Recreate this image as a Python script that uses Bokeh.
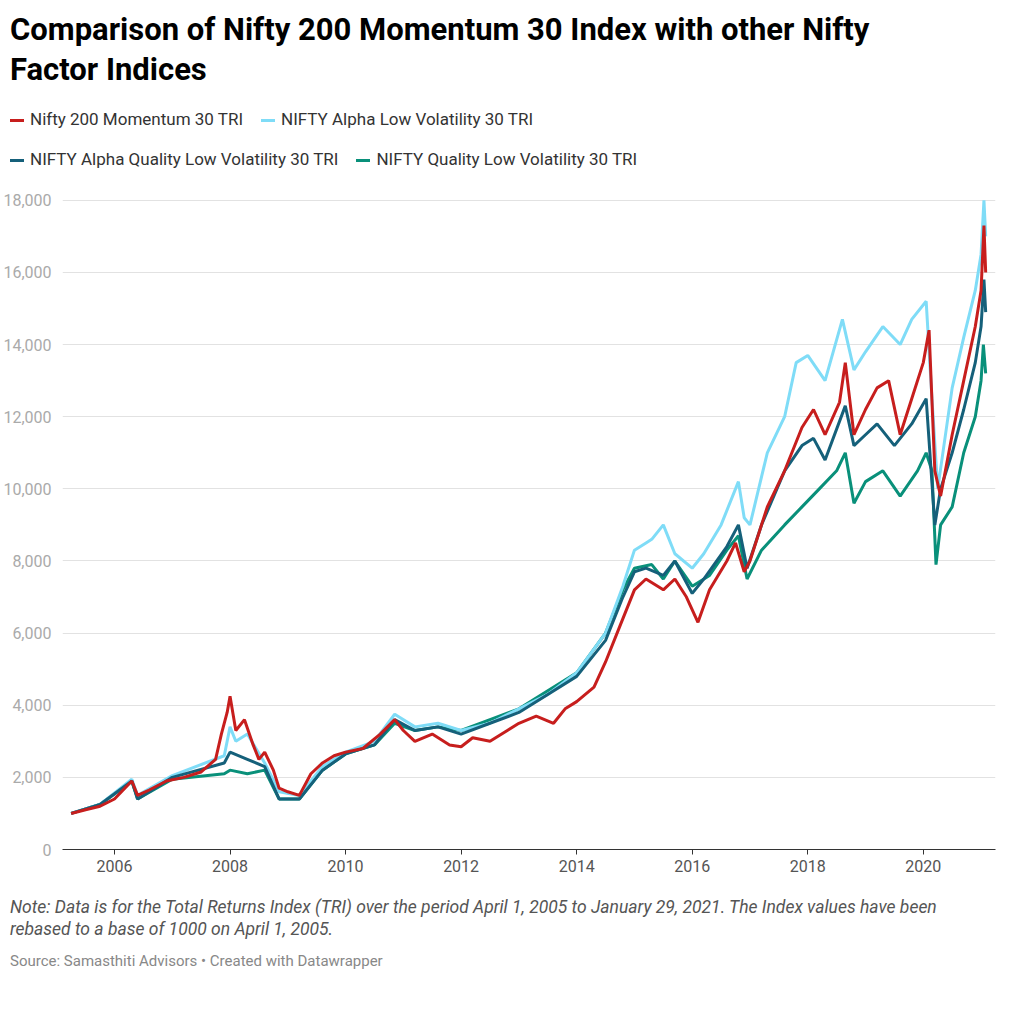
from bokeh.plotting import figure
from bokeh.models import Div, NumeralTickFormatter, FixedTicker
from bokeh.layouts import column
from bokeh.embed import file_html
from bokeh.resources import INLINE

mom_x = [2005.25,2005.5,2005.75,2006.0,2006.3,2006.4,2006.6,2006.9,2007.2,2007.5,2007.75,2007.85,2007.95,2008.0,2008.1,2008.25,2008.4,2008.5,2008.6,2008.75,2008.85,2009.0,2009.2,2009.4,2009.6,2009.8,2010.0,2010.3,2010.6,2010.85,2011.0,2011.2,2011.5,2011.8,2012.0,2012.2,2012.5,2012.8,2013.0,2013.3,2013.6,2013.8,2014.0,2014.3,2014.5,2014.75,2015.0,2015.2,2015.5,2015.7,2015.9,2016.1,2016.3,2016.6,2016.75,2016.9,2017.0,2017.3,2017.6,2017.9,2018.1,2018.3,2018.55,2018.65,2018.8,2019.0,2019.2,2019.4,2019.6,2019.8,2020.0,2020.1,2020.2,2020.3,2020.5,2020.7,2020.9,2021.0,2021.05,2021.08]
mom_y = [1000,1100,1200,1400,1900,1500,1650,1900,2000,2150,2500,3200,3800,4250,3300,3600,2900,2500,2700,2200,1700,1600,1500,2100,2400,2600,2700,2800,3200,3600,3300,3000,3200,2900,2850,3100,3000,3300,3500,3700,3500,3900,4100,4500,5200,6200,7200,7500,7200,7500,7000,6300,7200,8000,8500,7700,8000,9500,10500,11700,12200,11500,12400,13500,11500,12200,12800,13000,11500,12500,13500,14400,10500,9800,11500,13000,14500,15500,17300,16000]

alv_x = [2005.25,2005.75,2006.3,2006.4,2007.0,2007.9,2008.0,2008.1,2008.3,2008.6,2008.85,2009.2,2009.6,2010.0,2010.5,2010.85,2011.2,2011.6,2012.0,2012.5,2013.0,2013.5,2014.0,2014.5,2014.8,2015.0,2015.2,2015.3,2015.5,2015.7,2016.0,2016.2,2016.5,2016.8,2016.9,2017.0,2017.3,2017.6,2017.8,2018.0,2018.3,2018.6,2018.8,2019.0,2019.3,2019.6,2019.8,2020.05,2020.15,2020.25,2020.5,2020.7,2020.9,2021.0,2021.05,2021.08]
alv_y = [1000,1250,1950,1500,2050,2600,3400,3000,3200,2400,1600,1500,2300,2700,3000,3750,3400,3500,3300,3500,3900,4300,4900,6000,7300,8300,8500,8600,9000,8200,7800,8200,9000,10200,9200,9000,11000,12000,13500,13700,13000,14700,13300,13800,14500,14000,14700,15200,12500,10000,12800,14200,15500,16500,18000,17000]

aqlv_x = [2005.25,2005.75,2006.3,2006.4,2007.0,2007.9,2008.0,2008.3,2008.6,2008.85,2009.2,2009.6,2010.0,2010.5,2010.85,2011.2,2011.6,2012.0,2012.5,2013.0,2013.5,2014.0,2014.5,2014.8,2015.0,2015.2,2015.5,2015.7,2016.0,2016.2,2016.6,2016.8,2016.95,2017.2,2017.6,2017.9,2018.1,2018.3,2018.65,2018.8,2019.0,2019.2,2019.5,2019.8,2020.05,2020.2,2020.3,2020.5,2020.7,2020.9,2021.0,2021.05,2021.08]
aqlv_y = [1000,1250,1900,1400,2000,2400,2700,2500,2300,1400,1400,2200,2650,2900,3600,3300,3400,3200,3500,3800,4300,4800,5800,7000,7700,7800,7600,8000,7100,7500,8400,9000,7800,9000,10500,11200,11400,10800,12300,11200,11500,11800,11200,11800,12500,9000,10000,11000,12200,13500,14500,15800,14900]

qlv_x = [2005.25,2005.75,2006.3,2006.4,2007.0,2007.9,2008.0,2008.3,2008.6,2008.85,2009.2,2009.6,2010.0,2010.5,2010.85,2011.2,2011.6,2012.0,2012.5,2013.0,2013.5,2014.0,2014.5,2014.8,2015.0,2015.3,2015.5,2015.7,2016.0,2016.3,2016.6,2016.8,2016.95,2017.2,2017.6,2017.9,2018.2,2018.5,2018.65,2018.8,2019.0,2019.3,2019.6,2019.9,2020.05,2020.15,2020.22,2020.3,2020.5,2020.7,2020.9,2021.0,2021.04,2021.08]
qlv_y = [1000,1250,1900,1400,1950,2100,2200,2100,2200,1400,1400,2200,2650,2900,3500,3300,3400,3300,3600,3900,4400,4900,6000,7200,7800,7900,7500,8000,7300,7600,8300,8700,7500,8300,9000,9500,10000,10500,11000,9600,10200,10500,9800,10500,11000,10500,7900,9000,9500,11000,12000,13000,14000,13200]

series_names = ["Nifty 200 Momentum 30 TRI", "NIFTY Alpha Low Volatility 30 TRI",
                "NIFTY Alpha Quality Low Volatility 30 TRI", "NIFTY Quality Low Volatility 30 TRI"]
colors = ["#c71e1d", "#7fdcf7", "#15607a", "#09907a"]
year_ticks = [2006, 2008, 2010, 2012, 2014, 2016, 2018, 2020]
y_ticks = [0, 2000, 4000, 6000, 8000, 10000, 12000, 14000, 16000, 18000]

title = Div(text="Comparison of Nifty 200 Momentum 30 Index with other Nifty Factor Indices",
            width=920, styles={"font-family": "Roboto", "font-size": "31px", "font-weight": "bold",
                                "line-height": "40px", "color": "#000", "margin-left": "10px", "margin-top": "10px"})

def item(name, c):
    return (f'<span style="display:inline-block;margin-right:18px;white-space:nowrap">'
            f'<span style="display:inline-block;width:14px;height:3px;background:{c};vertical-align:middle;margin-right:6px"></span>{name}</span>')

legend = Div(text=f'<div style="line-height:40px">{item(series_names[0],colors[0])}{item(series_names[1],colors[1])}<br>'
                  f'{item(series_names[2],colors[2])}{item(series_names[3],colors[3])}</div>',
             width=960, styles={"font-family": "Roboto", "font-size": "17px", "color": "#333", "margin-left": "10px", "margin-top": "4px"})

p = figure(width=1000, height=690, output_backend="svg", toolbar_location=None,
           x_range=(2005.1, 2021.25), y_range=(0, 18300), min_border_left=10, min_border_right=5)
p.line(qlv_x, qlv_y, color=colors[3], line_width=3)
p.line(alv_x, alv_y, color=colors[1], line_width=3)
p.line(aqlv_x, aqlv_y, color=colors[2], line_width=3)
p.line(mom_x, mom_y, color=colors[0], line_width=3)

p.outline_line_color = None
p.xgrid.grid_line_color = None
p.ygrid.grid_line_color = "#e2e2e2"
p.yaxis.ticker = FixedTicker(ticks=y_ticks)
p.yaxis.formatter = NumeralTickFormatter(format="0,0")
p.yaxis.axis_line_color = None
p.yaxis.major_tick_line_color = None
p.yaxis.minor_tick_line_color = None
p.yaxis.major_label_text_color = "#aaaaaa"
p.yaxis.major_label_text_font = "Roboto"
p.yaxis.major_label_text_font_size = "16px"
p.xaxis.ticker = FixedTicker(ticks=year_ticks)
p.xaxis.axis_line_color = "#333333"
p.xaxis.major_tick_line_color = "#333333"
p.xaxis.major_tick_in = 0
p.xaxis.major_tick_out = 5
p.xaxis.minor_tick_line_color = None
p.xaxis.major_label_text_color = "#555555"
p.xaxis.major_label_text_font = "Roboto"
p.xaxis.major_label_text_font_size = "16px"

note = Div(text='<i>Note: Data is for the Total Returns Index (TRI) over the period April 1, 2005 to January 29, 2021. The Index values have been rebased to a base of 1000 on April 1, 2005.</i>'
                '<div style="margin-top:10px;color:#888;font-size:15px">Source: Samasthiti Advisors • Created with Datawrapper</div>',
           width=975, styles={"font-family": "Roboto", "font-size": "17.5px", "color": "#555", "margin-left": "10px", "line-height": "22px", "margin-top": "22px"})

out = column(title, legend, p, note, spacing=0)
open("out.html", "w").write(file_html(out, INLINE))
